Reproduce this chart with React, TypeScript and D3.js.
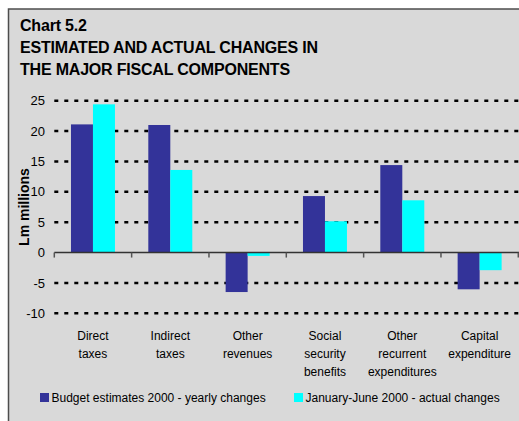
import React from "react";
import * as d3 from "d3";

const categories: string[][] = [
  ["Direct", "taxes"],
  ["Indirect", "taxes"],
  ["Other", "revenues"],
  ["Social", "security", "benefits"],
  ["Other", "recurrent", "expenditures"],
  ["Capital", "expenditure"],
];
const seriesNames = [
  "Budget estimates 2000 - yearly changes",
  "January-June 2000 - actual changes",
];
const budgetValues = [21.1, 21.0, -6.5, 9.3, 14.4, -6.05];
const actualValues = [24.4, 13.6, -0.55, 5.15, 8.6, -2.9];
const yTicks = [25, 20, 15, 10, 5, 0, -5, -10];
const titleLines = [
  "Chart 5.2",
  "ESTIMATED AND ACTUAL CHANGES IN",
  "THE MAJOR FISCAL COMPONENTS",
];
const colors = ["#333399", "#00FFFF"];

const W = 519;
const H = 421;
const FONT = "'Liberation Sans', Arial, Helvetica, sans-serif";

export default function App() {
  const keys = categories.map((c) => c.join(" "));
  const x0 = d3.scaleBand<string>().domain(keys).range([54.3, 518.3]).padding(0);
  const x1 = d3
    .scaleBand<string>()
    .domain(seriesNames)
    .range([0, x0.bandwidth()])
    .paddingInner(0)
    .paddingOuter(0.758);
  const y = d3.scaleLinear().domain([-10, 25]).range([313.3, 100.7]);
  const series = [budgetValues, actualValues];
  const tickXs = keys.map((k) => x0(k) as number).concat([518.3]);

  return (
    <svg
      width={W}
      height={H}
      style={{ position: "absolute", left: 0, top: 0, display: "block" }}
      fontFamily={FONT}
    >
      <rect x={0} y={0} width={W} height={H} fill="#ffffff" />
      <rect x={8.5} y={9} width={W} height={H} fill="#d9d9d9" stroke="#4d4d4d" strokeWidth={1.5} />
      {titleLines.map((t, i) => (
        <text
          key={i}
          x={20}
          y={31 + i * 22}
          fontSize={16}
          fontWeight="bold"
          letterSpacing={-0.2}
          fill="#000"
        >
          {t}
        </text>
      ))}
      {/* gridlines */}
      {yTicks
        .filter((t) => t !== 0)
        .map((t) => (
          <line
            key={t}
            x1={54.3}
            x2={W}
            y1={y(t)}
            y2={y(t)}
            stroke="#000"
            strokeWidth={2.5}
            strokeDasharray="4 6"
          />
        ))}
      {/* y tick labels */}
      {yTicks.map((t) => (
        <text
          key={"l" + t}
          x={45}
          y={y(t)}
          dy="0.36em"
          textAnchor="end"
          fontSize={13}
          fill="#000"
        >
          {t}
        </text>
      ))}
      {/* bars */}
      {keys.map((k, ci) =>
        seriesNames.map((s, si) => {
          const v = series[si][ci];
          const bx = (x0(k) as number) + (x1(s) as number);
          return (
            <rect
              key={k + s}
              x={bx}
              y={Math.min(y(v), y(0))}
              width={x1.bandwidth()}
              height={Math.abs(y(v) - y(0))}
              fill={colors[si]}
            />
          );
        })
      )}
      {/* zero axis */}
      <line x1={54.3} x2={W} y1={y(0)} y2={y(0)} stroke="#333" strokeWidth={1.5} />
      {tickXs.map((tx, i) => (
        <line key={"t" + i} x1={tx} x2={tx} y1={y(0)} y2={y(0) + 5} stroke="#555" strokeWidth={1.5} />
      ))}
      {/* axis title */}
      <text
        transform={`translate(28.5, 207) rotate(-90)`}
        textAnchor="middle"
        fontSize={14}
        fontWeight="bold"
        fill="#000"
      >
        Lm millions
      </text>
      {/* category labels */}
      {categories.map((lines, ci) => (
        <text
          key={"c" + ci}
          x={(x0(keys[ci]) as number) + x0.bandwidth() / 2}
          y={340}
          textAnchor="middle"
          fontSize={12}
          fill="#000"
        >
          {lines.map((ln, li) => (
            <tspan key={li} x={(x0(keys[ci]) as number) + x0.bandwidth() / 2} y={340 + li * 18}>
              {ln}
            </tspan>
          ))}
        </text>
      ))}
      {/* legend */}
      {seriesNames.map((s, si) => {
        const lx = si === 0 ? 40 : 294;
        return (
          <g key={"lg" + s}>
            <rect x={lx} y={393} width={9} height={9} fill={colors[si]} />
            <text x={lx + 11.5} y={402} fontSize={12} fill="#000">
              {s}
            </text>
          </g>
        );
      })}
    </svg>
  );
}
